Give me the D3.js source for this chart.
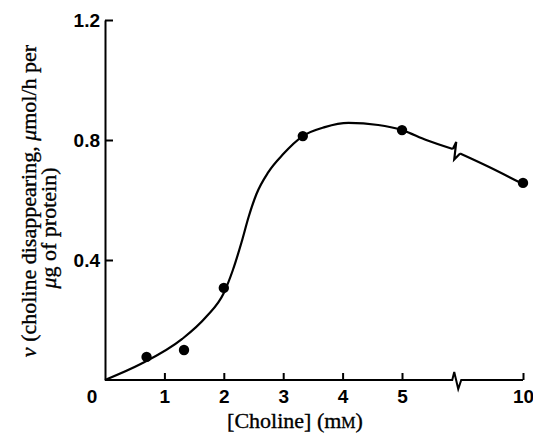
<!DOCTYPE html>
<html>
<head>
<meta charset="utf-8">
<script src="https://cdn.jsdelivr.net/npm/d3@7"></script>
<style>
  body { margin: 0; background: #fff; }
  svg { display: block; }
  .tick text { font-family: "Liberation Sans", Arial, sans-serif; font-weight: bold; font-size: 19px; fill: #000; }
  .title { font-family: "Liberation Serif", "DejaVu Serif", serif; fill: #000; stroke: #000; stroke-width: 0.35px; }
</style>
</head>
<body>
<svg id="chart" width="533" height="434"></svg>
<script>
// measured points: [choline mM, v]
const pointX = [0.7, 1.33, 2.0, 3.33, 5.0, 10.0];
const pointY = [0.077, 0.10, 0.307, 0.813, 0.833, 0.657];

// fitted curve, split at the axis break
const curveBefore = [
  [0, 0], [0.6, 0.053], [1.3, 0.137], [1.7, 0.21], [2.0, 0.29], [2.15, 0.365],
  [2.3, 0.46], [2.42, 0.545], [2.55, 0.62], [2.75, 0.693], [3.0, 0.753],
  [3.33, 0.813], [3.7, 0.843], [4.1, 0.857], [4.6, 0.85], [5.0, 0.833],
  [6.0, 0.80], [7.1, 0.77]
];
const curveAfter = [[7.4, 0.755], [8.6, 0.71], [10, 0.653]];

const xTicks = [1, 2, 3, 4, 5, 10];
const yTicks = [0.4, 0.8, 1.2];
const breakAt = 7.2;

const svg = d3.select("#chart");

// x axis is broken between 5 and 10, so use a piecewise scale
const x = d3.scaleLinear().domain([0, 5, 10]).range([105, 402, 523]);
const y = d3.scaleLinear().domain([0, 1.2]).range([380, 20]);

// y axis
const yAxis = d3.axisLeft(y)
  .tickValues(yTicks)
  .tickFormat(d3.format(".1f"))
  .tickSizeInner(-8)
  .tickSizeOuter(0)
  .tickPadding(5);
svg.append("g")
  .attr("transform", `translate(${x(0)},0)`)
  .call(yAxis)
  .call(g => g.selectAll("path, line").attr("stroke", "#000").attr("stroke-width", 2));

// x axis (ticks only, the line is drawn with the break)
const xAxis = d3.axisBottom(x)
  .tickValues(xTicks)
  .tickSizeInner(-7)
  .tickSizeOuter(0)
  .tickPadding(10);
svg.append("g")
  .attr("transform", `translate(0,${y(0)})`)
  .call(xAxis)
  .call(g => g.select(".domain").remove())
  .call(g => g.selectAll("line").attr("stroke", "#000").attr("stroke-width", 2));

// zigzag break helper
function zig(cx, cy, up, down) {
  return `L${cx - 3},${cy} L${cx - 1},${cy - up} L${cx + 3},${cy + down} L${cx + 6},${cy}`;
}

const bx = x(breakAt);
svg.append("path")
  .attr("d", `M${x(0)},${y(0)} ` + zig(bx, y(0), 8, 9) + ` L${x(10)},${y(0)}`)
  .attr("fill", "none")
  .attr("stroke", "#000")
  .attr("stroke-width", 2)
  .attr("stroke-linejoin", "miter");

// corner zero label
svg.append("text")
  .attr("x", x(0) - 13)
  .attr("y", y(0) + 23)
  .attr("text-anchor", "middle")
  .style("font-family", "Liberation Sans, Arial, sans-serif")
  .style("font-weight", "bold")
  .style("font-size", "19px")
  .text("0");

// curve
const line = d3.line()
  .x(d => x(d[0]))
  .y(d => y(d[1]))
  .curve(d3.curveMonotoneX);

svg.append("path")
  .datum(curveBefore)
  .attr("d", line)
  .attr("fill", "none")
  .attr("stroke", "#000")
  .attr("stroke-width", 2.2);

svg.append("path")
  .datum(curveAfter)
  .attr("d", line)
  .attr("fill", "none")
  .attr("stroke", "#000")
  .attr("stroke-width", 2.2);

// break mark on the curve
const e1 = curveBefore[curveBefore.length - 1], s2 = curveAfter[0];
svg.append("path")
  .attr("d", `M${x(e1[0])},${y(e1[1])} L${x(breakAt) + 1},${y(e1[1]) - 7} L${x(breakAt) - 1},${y(s2[1]) + 6} L${x(s2[0])},${y(s2[1])}`)
  .attr("fill", "none")
  .attr("stroke", "#000")
  .attr("stroke-width", 2.2);

// points
svg.append("g")
  .selectAll("circle")
  .data(pointX.map((d, i) => [d, pointY[i]]))
  .join("circle")
  .attr("cx", d => x(d[0]))
  .attr("cy", d => y(d[1]))
  .attr("r", 5.2)
  .attr("fill", "#000");

// x title
const xt = svg.append("text")
  .attr("class", "title")
  .attr("x", 295)
  .attr("y", 428)
  .attr("text-anchor", "middle")
  .style("font-size", "22px");
xt.append("tspan").text("[Choline] (m");
xt.append("tspan").style("font-size", "16px").text("M");
xt.append("tspan").text(")");

// y title, two lines
const yt1 = svg.append("text")
  .attr("class", "title")
  .attr("transform", "translate(36,201) rotate(-90)")
  .attr("text-anchor", "middle")
  .style("font-size", "22px");
yt1.append("tspan").style("font-style", "italic").text("v");
yt1.append("tspan").text(" (choline disappearing, ");
yt1.append("tspan").style("font-style", "italic").text("μ");
yt1.append("tspan").text("mol/h per");

const yt2 = svg.append("text")
  .attr("class", "title")
  .attr("transform", "translate(56,228) rotate(-90)")
  .attr("text-anchor", "middle")
  .style("font-size", "22px");
yt2.append("tspan").style("font-style", "italic").text("μ");
yt2.append("tspan").text("g of protein)");
</script>
</body>
</html>
